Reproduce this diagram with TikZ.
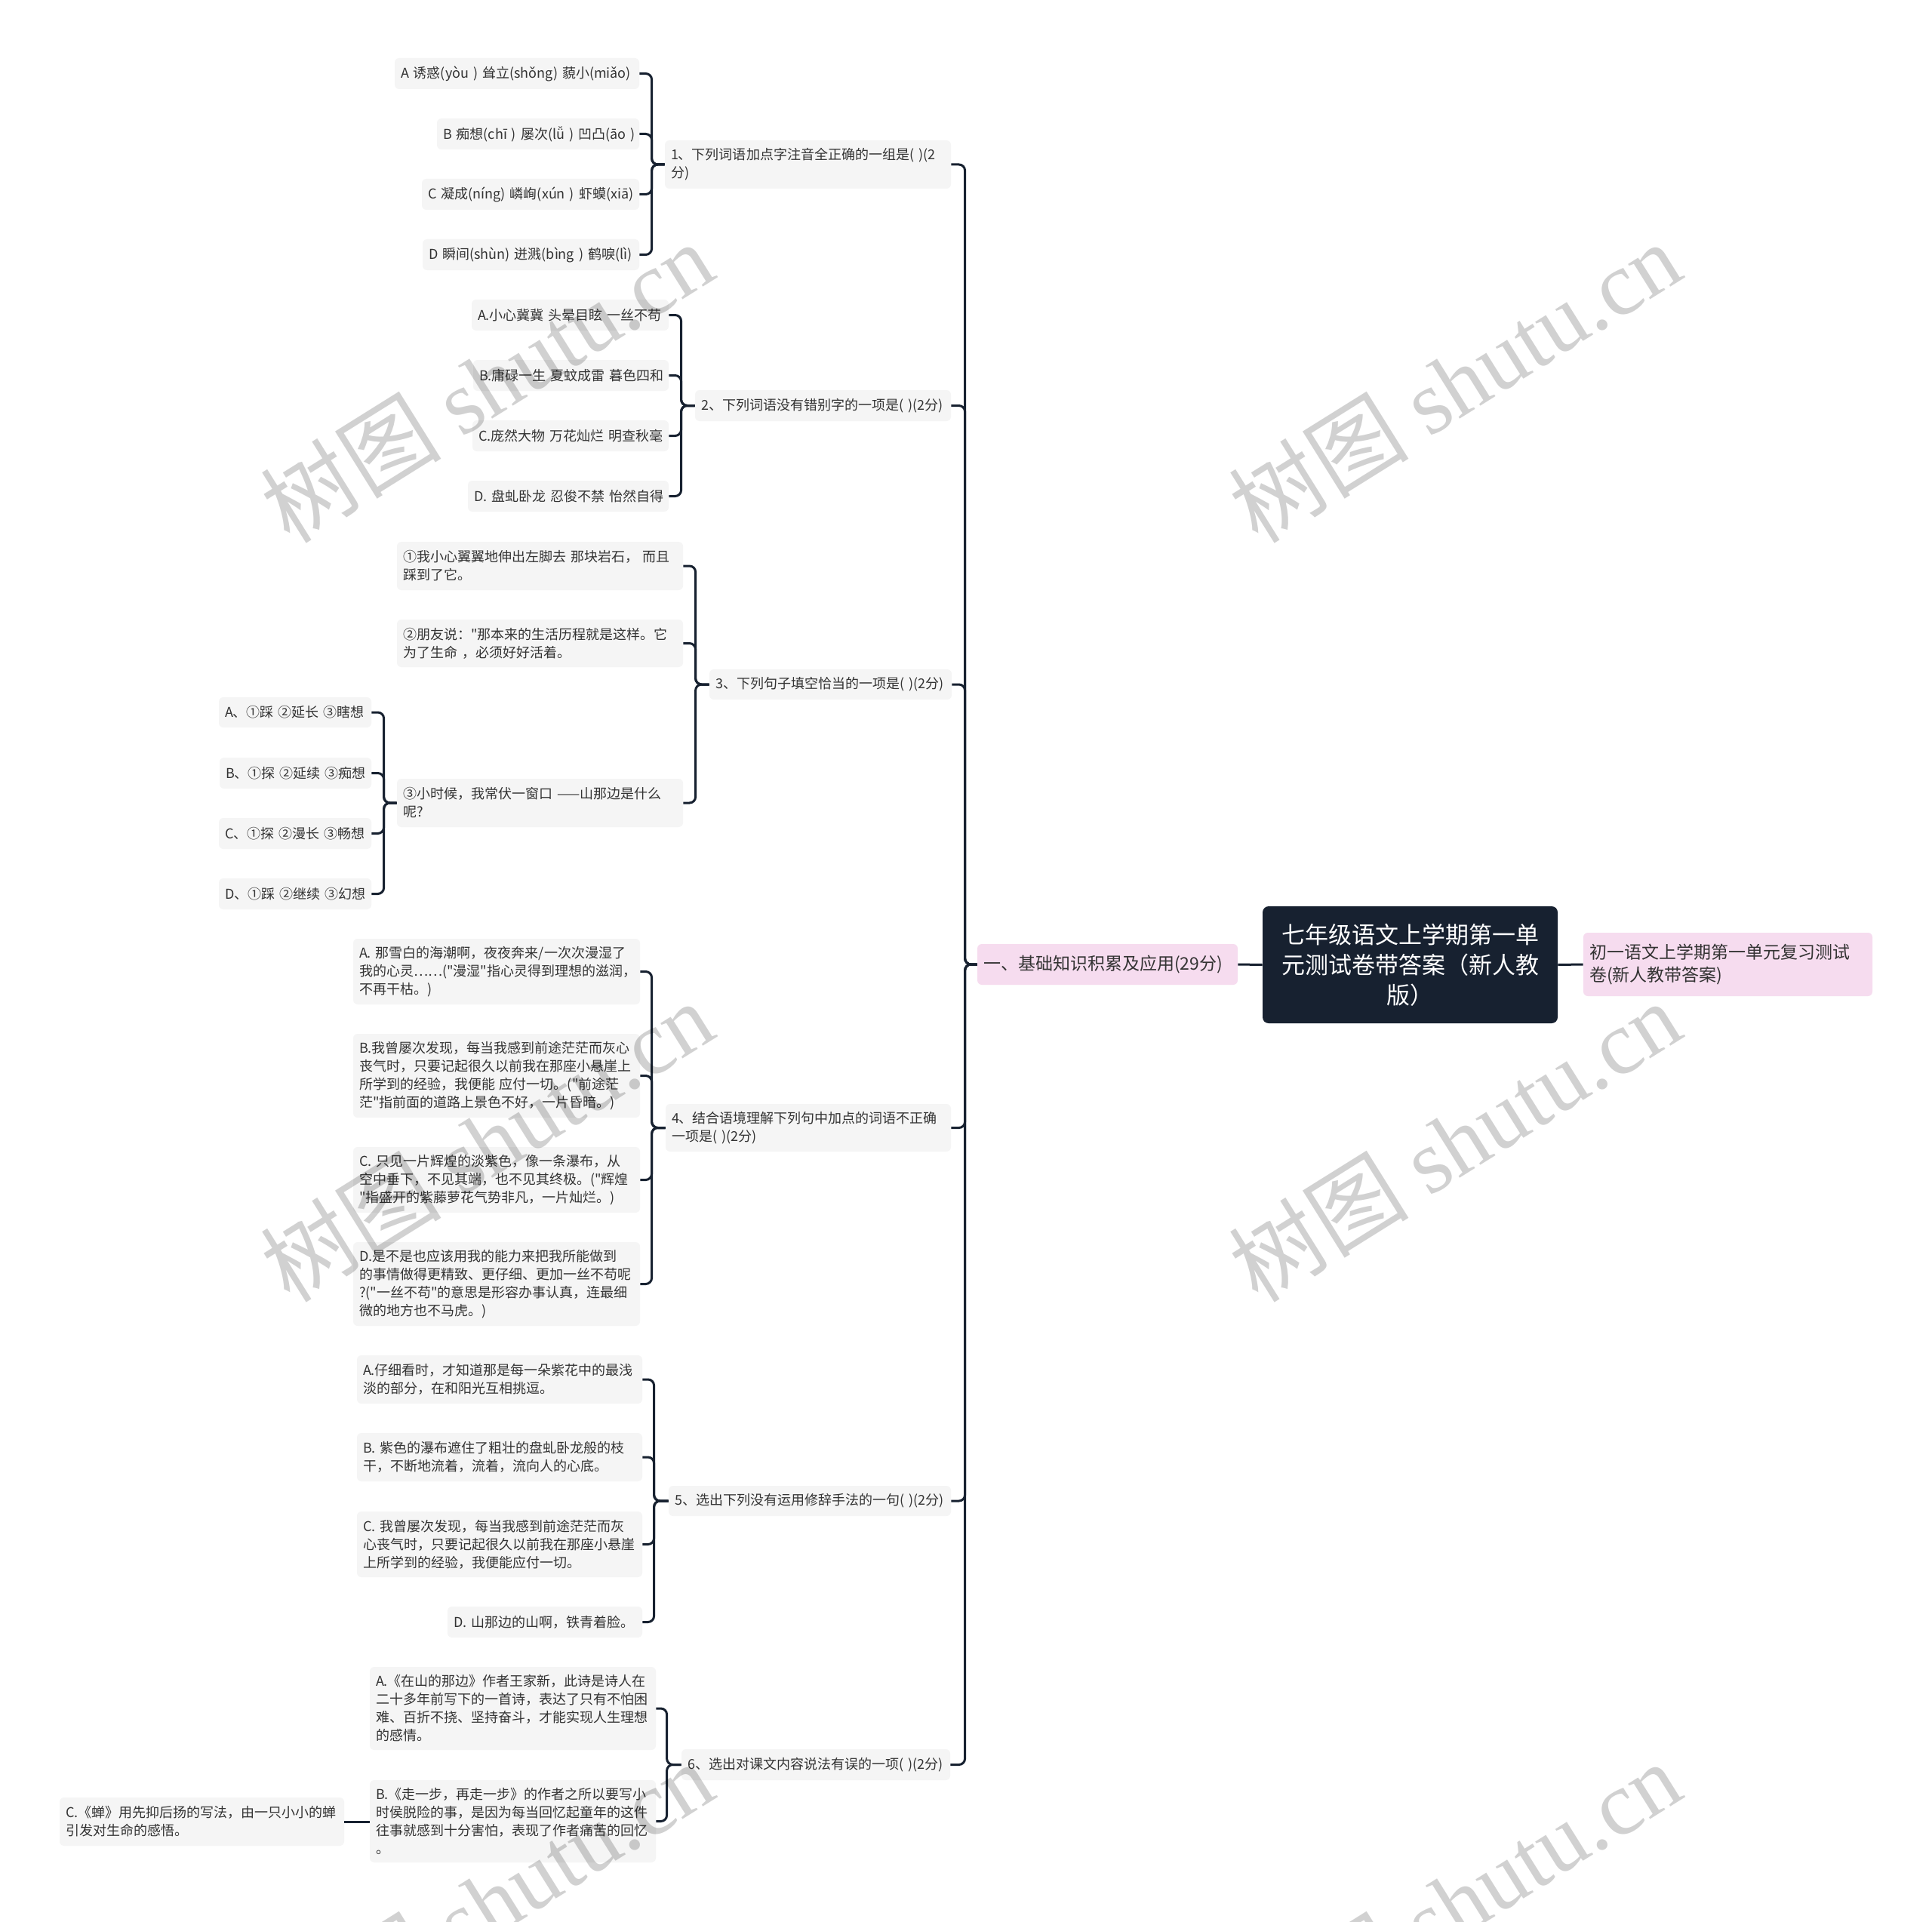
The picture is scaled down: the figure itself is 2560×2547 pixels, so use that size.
\documentclass[tikz,border=0pt]{standalone}
\usepackage{fontspec}
\setmainfont{Noto Sans CJK SC}[Ligatures=TeXOff]
\newfontfamily\wmlatin{Liberation Serif}
\definecolor{boxgray}{HTML}{F5F5F5}
\definecolor{pinkfill}{HTML}{F6DCEF}
\definecolor{rootfill}{HTML}{172130}
\definecolor{linec}{HTML}{172130}
\definecolor{txt}{HTML}{333333}
\newcommand\mmbox[7]{%
  \pgfmathsetmacro\mmw{(#4-#3)*0.5-8}%
  \pgfmathsetmacro\mmh{(#6-#5)*0.5}%
  \node[#1, text width=\mmw pt, minimum height=\mmh pt] (#2) at ({(#3+#4)/2},{(#5+#6)/2}) {#7};%
}
\tikzset{
  box/.style={fill=boxgray, rounded corners=3pt, inner xsep=4pt, inner ysep=1pt, align=left, text=txt, font=\fontsize{9}{12}\selectfont},
  pinkbox/.style={fill=pinkfill, rounded corners=3pt, inner xsep=4pt, inner ysep=1pt, align=left, text=txt, font=\fontsize{11.5}{15}\selectfont},
  rootbox/.style={fill=rootfill, rounded corners=4pt, inner xsep=4pt, inner ysep=1pt, align=center, text=white, font=\fontsize{15.5}{20}\selectfont},
  conn/.style={draw=linec, line width=1.5pt, rounded corners=4pt},
  wm/.style={rotate=32, text=black, text opacity=0.18, font=\fontsize{60}{60}\selectfont, inner sep=0pt},
}
\begin{document}
\begin{tikzpicture}[x=0.5pt,y=-0.5pt]
\fill[white] (0,0) rectangle (2560,2547);
\useasboundingbox (0,0) rectangle (2560,2547);

% main nodes
\mmbox{pinkbox}{n1}{1295}{1640}{1251}{1305}{一、基础知识积累及应用(29分)}
\mmbox{rootbox}{root}{1673}{2064}{1201}{1356}{七年级语文上学期第一单\\元测试卷带答案（新人教\\版）}
\mmbox{pinkbox}{rn}{2098}{2481}{1236}{1320}{初一语文上学期第一单元复习测试\\卷(新人教带答案)}

% Q1
\mmbox{box}{q1a}{523}{847}{77}{118}{A~诱惑(yòu~)~耸立(shǒng)~藐小(miǎo)}
\mmbox{box}{q1b}{579}{847}{157}{198}{B~痴想(chī~)~屡次(lǚ~)~凹凸(āo~)}
\mmbox{box}{q1c}{559}{847}{237}{278}{C~凝成(níng)~嶙峋(xún~)~虾蟆(xiā)}
\mmbox{box}{q1d}{560}{847}{317}{358}{D~瞬间(shùn)~迸溅(bìng~)~鹤唳(lì)}
\mmbox{box}{q1}{881}{1260}{186}{250}{1、下列词语加点字注音全正确的一组是(~)(2\\分)}

% Q2
\mmbox{box}{q2a}{625}{886}{397}{438}{A.小心冀冀~头晕目眩~一丝不苟}
\mmbox{box}{q2b}{627}{886}{477}{518}{B.庸碌一生~夏蚊成雷~暮色四和}
\mmbox{box}{q2c}{626}{886}{557}{598}{C.庞然大物~万花灿烂~明查秋毫}
\mmbox{box}{q2d}{620}{886}{637}{678}{D.~盘虬卧龙~忍俊不禁~怡然自得}
\mmbox{box}{q2}{921}{1260}{517}{558}{2、下列词语没有错别字的一项是(~)(2分)}

% Q3
\mmbox{box}{q3s1}{526}{905}{718}{782}{①我小心翼翼地伸出左脚去~那块岩石，~而且\\踩到了它。}
\mmbox{box}{q3s2}{526}{905}{821}{884}{②朋友说："那本来的生活历程就是这样。它\\为了生命~，必须好好活着。}
\mmbox{box}{q3s3}{526}{905}{1032}{1096}{③小时候，我常伏一窗口~——山那边是什么\\呢?}
\mmbox{box}{q3}{940}{1261}{887}{927}{3、下列句子填空恰当的一项是(~)(2分)}
\mmbox{box}{q3a}{290}{492}{924}{964}{A、①踩~②延长~③瞎想}
\mmbox{box}{q3b}{291}{492}{1004}{1045}{B、①探~②延续~③痴想}
\mmbox{box}{q3c}{290}{492}{1084}{1125}{C、①探~②漫长~③畅想}
\mmbox{box}{q3d}{290}{492}{1164}{1205}{D、①踩~②继续~③幻想}

% Q4
\mmbox{box}{q4a}{468}{848}{1244}{1331}{A.~那雪白的海潮啊，夜夜奔来/一次次漫湿了\\我的心灵……("漫湿"指心灵得到理想的滋润，\\不再干枯。)}
\mmbox{box}{q4b}{468}{848}{1370}{1481}{B.我曾屡次发现，每当我感到前途茫茫而灰心\\丧气时，只要记起很久以前我在那座小悬崖上\\所学到的经验，我便能~应付一切。("前途茫\\茫"指前面的道路上景色不好，一片昏暗。)}
\mmbox{box}{q4c}{468}{848}{1520}{1607}{C.~只见一片辉煌的淡紫色，像一条瀑布，从\\空中垂下，不见其端，也不见其终极。("辉煌\\"指盛开的紫藤萝花气势非凡，一片灿烂。)}
\mmbox{box}{q4d}{468}{848}{1646}{1757}{D.是不是也应该用我的能力来把我所能做到\\的事情做得更精致、更仔细、更加一丝不苟呢\\?("一丝不苟"的意思是形容办事认真，连最细\\微的地方也不马虎。)}
\mmbox{box}{q4}{882}{1260}{1463}{1526}{4、结合语境理解下列句中加点的词语不正确\\一项是(~)(2分)}

% Q5
\mmbox{box}{q5a}{473}{851}{1796}{1860}{A.仔细看时，才知道那是每一朵紫花中的最浅\\淡的部分，在和阳光互相挑逗。}
\mmbox{box}{q5b}{473}{851}{1899}{1963}{B.~紫色的瀑布遮住了粗壮的盘虬卧龙般的枝\\干，不断地流着，流着，流向人的心底。}
\mmbox{box}{q5c}{473}{851}{2003}{2090}{C.~我曾屡次发现，每当我感到前途茫茫而灰\\心丧气时，只要记起很久以前我在那座小悬崖\\上所学到的经验，我便能应付一切。}
\mmbox{box}{q5d}{593}{851}{2129}{2170}{D.~山那边的山啊，铁青着脸。}
\mmbox{box}{q5}{886}{1260}{1969}{2009}{5、选出下列没有运用修辞手法的一句(~)(2分)}

% Q6
\mmbox{box}{q6a}{490}{869}{2209}{2319}{A.《在山的那边》作者王家新，此诗是诗人在\\二十多年前写下的一首诗，表达了只有不怕困\\难、百折不挠、坚持奋斗，才能实现人生理想\\的感情。}
\mmbox{box}{q6b}{490}{869}{2359}{2468}{B.《走一步，再走一步》的作者之所以要写小\\时侯脱险的事，是因为每当回忆起童年的这件\\往事就感到十分害怕，表现了作者痛苦的回忆\\。}
\mmbox{box}{q6c}{79}{456}{2382}{2446}{C.《蝉》用先抑后扬的写法，由一只小小的蝉\\引发对生命的感悟。}
\mmbox{box}{q6}{903}{1259}{2318}{2359}{6、选出对课文内容说法有误的一项(~)(2分)}

% connectors
\draw[conn] (n1.east) -- (root.west);
\draw[conn] (root.east) -- (rn.west);

\coordinate (jt) at ([xshift=-8pt]n1.west);
\foreach \c in {q1,q2,q3,q4,q5,q6} \draw[conn] (\c.east) -| (jt) -- (n1.west);

\coordinate (j1) at ([xshift=-8.5pt]q1.west);
\foreach \c in {q1a,q1b,q1c,q1d} \draw[conn] (\c.east) -| (j1) -- (q1.west);

\coordinate (j2) at ([xshift=-9pt]q2.west);
\foreach \c in {q2a,q2b,q2c,q2d} \draw[conn] (\c.east) -| (j2) -- (q2.west);

\coordinate (j3) at ([xshift=-9pt]q3.west);
\foreach \c in {q3s1,q3s2,q3s3} \draw[conn] (\c.east) -| (j3) -- (q3.west);

\coordinate (j3s) at ([xshift=-8.5pt]q3s3.west);
\foreach \c in {q3a,q3b,q3c,q3d} \draw[conn] (\c.east) -| (j3s) -- (q3s3.west);

\coordinate (j4) at ([xshift=-9pt]q4.west);
\foreach \c in {q4a,q4b,q4c,q4d} \draw[conn] (\c.east) -| (j4) -- (q4.west);

\coordinate (j5) at ([xshift=-9.5pt]q5.west);
\foreach \c in {q5a,q5b,q5c,q5d} \draw[conn] (\c.east) -| (j5) -- (q5.west);

\coordinate (j6) at ([xshift=-9.5pt]q6.west);
\foreach \c in {q6a,q6b} \draw[conn] (\c.east) -| (j6) -- (q6.west);
\draw[conn] (q6c.east) -- (q6c.east -| q6b.west);

% watermarks
\foreach \wx/\wy [count=\i] in {645/506,1927/506,645/1512,1927/1512,645/2520,1927/2520}
  \node[wm] (wm\i) at (\wx,\wy) {树图 {\wmlatin shutu.cn}};
\end{tikzpicture}
\end{document}
